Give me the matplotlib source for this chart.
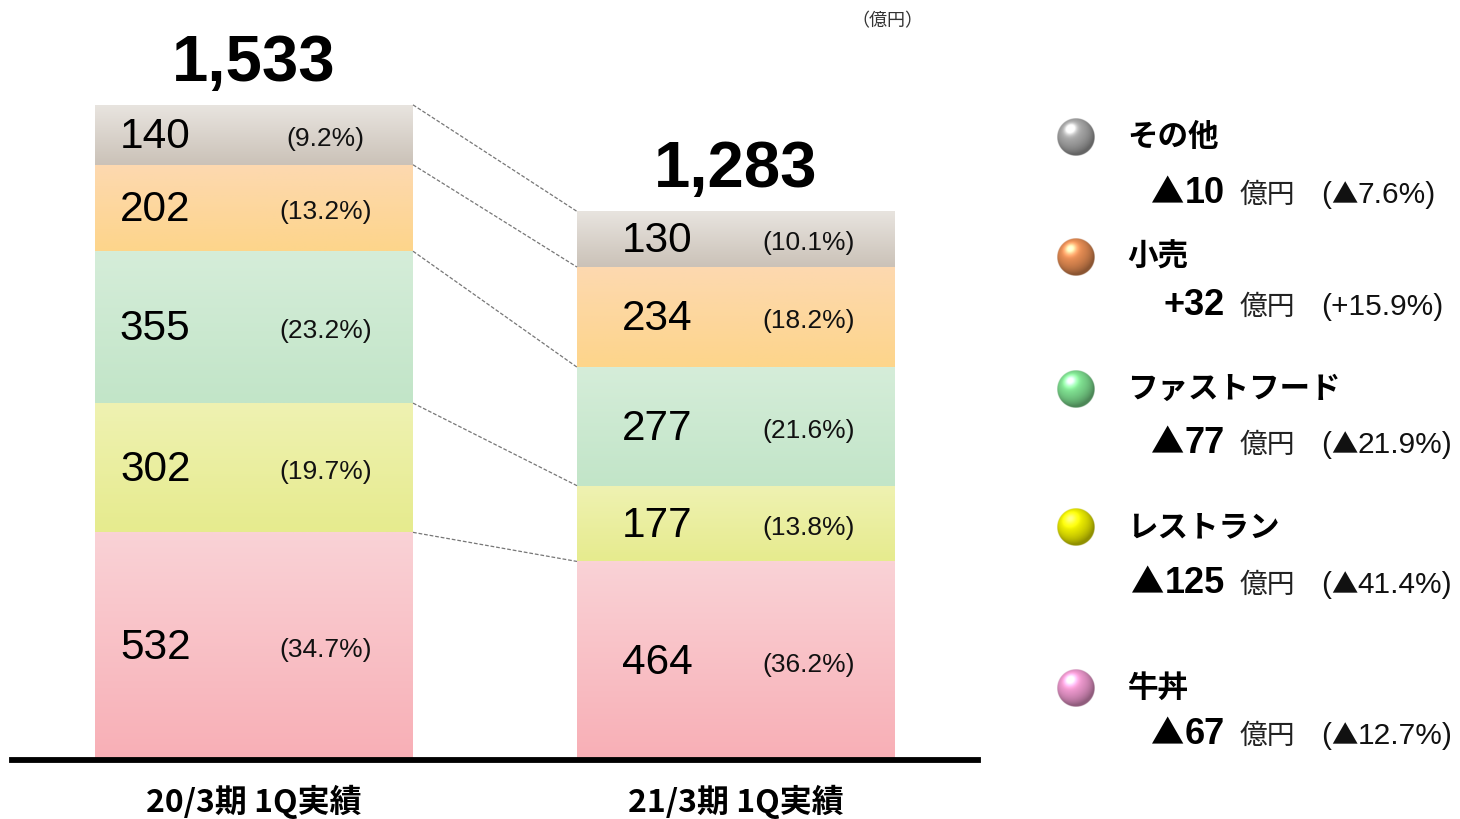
import numpy as np
import matplotlib
matplotlib.use("Agg")
import matplotlib.pyplot as plt
from matplotlib.colors import to_rgb

# ---------------- data ----------------
categories = ['20/3期 1Q実績', '21/3期 1Q実績']
segments = ['牛丼', 'レストラン', 'ファストフード', '小売', 'その他']   # bottom -> top
values_2003 = [532, 302, 355, 202, 140]
values_2103 = [464, 177, 277, 234, 130]
pct_2003 = ['(34.7%)', '(19.7%)', '(23.2%)', '(13.2%)', '(9.2%)']
pct_2103 = ['(36.2%)', '(13.8%)', '(21.6%)', '(18.2%)', '(10.1%)']
totals = ['1,533', '1,283']
diff_values = ['▲67', '▲125', '▲77', '+32', '▲10']
diff_pcts = ['(▲12.7%)', '(▲41.4%)', '(▲21.9%)', '(+15.9%)', '(▲7.6%)']
unit_label = '（億円）'
unit_small = '億円'

# ---------------- styles ----------------
grad_top = ['#fad2d6', '#eff2b2', '#d5edd9', '#fdd9b0', '#e8e4df']
grad_bot = ['#f8afb6', '#e6eb8e', '#c2e5c8', '#fdd58b', '#cbc2b8']
sphere_cols = ['#f09ad0', '#f0f000', '#80e292', '#e88e54', '#a8a8a8']

SANS = ['Liberation Sans', 'DejaVu Sans']
CJK = ['Noto Sans CJK JP', 'DejaVu Sans']

W, H = 1460, 819
fig = plt.figure(figsize=(W / 100, H / 100), dpi=100)

# main axes: x 0..980 px, y from baseline (760 px) up to top
ax = fig.add_axes([0, (H - 760) / H, 980 / W, 760 / H])
ax.set_ylim(0, 760 * 1533 / 656)
for s in ax.spines.values():
    s.set_visible(False)
ax.set_yticks([])

bw = 318 / 482
data = [values_2003, values_2103]
pcts = [pct_2003, pct_2103]
val_dx = [-0.205, -0.164]
pct_dx = [0.148, 0.150]
bottoms = [np.concatenate([[0], np.cumsum(v)[:-1]]) for v in data]

for i, (vals, btm, pl) in enumerate(zip(data, bottoms, pcts)):
    for j, (v, b) in enumerate(zip(vals, btm)):
        bar = ax.bar(i, v, bottom=b, width=bw, color='none', edgecolor='none', zorder=1)[0]
        x0, y0 = bar.get_x(), bar.get_y()
        x1, y1 = x0 + bar.get_width(), y0 + bar.get_height()
        t = np.linspace(0, 1, 64)[:, None]
        c0, c1 = np.array(to_rgb(grad_top[j])), np.array(to_rgb(grad_bot[j]))
        img = (c0[None, :] * (1 - t) + c1[None, :] * t)[:, None, :]
        im = ax.imshow(img, extent=(x0, x1, y0, y1), origin='upper', aspect='auto',
                       interpolation='bilinear', zorder=1)
        im.set_clip_path(bar)
        yc = b + v / 2
        ax.annotate(f'{v}', xy=(i + val_dx[i], yc), xytext=(0, -1.5), textcoords='offset points',
                    ha='center', va='center', fontsize=30.5, family=SANS, color='black', zorder=3)
        ax.annotate(pl[j], xy=(i + pct_dx[i], yc), xytext=(0, -3), textcoords='offset points',
                    ha='center', va='center', fontsize=19, family=SANS, color='#111111', zorder=3)
    ax.annotate(totals[i], xy=(i, sum(vals)), xytext=(0, 17.5), textcoords='offset points',
                ha='center', va='baseline', fontsize=47, fontweight='bold', family=SANS)

# connector dashed lines
cum0 = np.cumsum(values_2003)
cum1 = np.cumsum(values_2103)
for a, b in zip(cum0, cum1):
    ax.plot([0 + bw / 2, 1 - bw / 2], [a, b], ls=(0, (3, 1.5)), lw=0.9, color='#777777', zorder=2)

# baseline
ax.axhline(0, xmin=12 / 980, xmax=978 / 980, color='black', lw=4.2, zorder=4, clip_on=False)

ax.set_xticks([0, 1])
ax.set_xticklabels(categories, fontsize=23, fontweight='bold', family=CJK)
ax.tick_params(axis='x', length=0, pad=18)
ax.set_xlim(-254 / 482, (980 - 254) / 482)

# overlay for legend in pixel coordinates
ov = fig.add_axes([0, 0, 1, 1])
ov.set_xlim(0, W)
ov.set_ylim(H, 0)
ov.axis('off')
ov.patch.set_alpha(0)

ov.text(887, 21, unit_label, ha='center', va='center', fontsize=13, family=CJK, color='#333333')


def sphere(cx, cy, r, col):
    n = 120
    yy, xx = np.mgrid[-1:1:n * 1j, -1:1:n * 1j]
    rr = np.sqrt(xx ** 2 + yy ** 2)
    z = np.sqrt(np.clip(1 - rr ** 2, 0, 1))
    L = np.array([-0.3, -0.45, 0.84])
    L = L / np.linalg.norm(L)
    dot = np.clip(xx * L[0] + yy * L[1] + z * L[2], 0, 1)
    base = np.array(to_rgb(col))
    shade = 0.6 + 0.45 * dot
    spec = dot ** 20 * 0.55
    rgb = base[None, None, :] * shade[..., None] + spec[..., None]
    rgb = np.clip(rgb, 0, 1)
    alpha = np.clip((1 - rr) * n / 2.5, 0, 1)
    rgba = np.dstack([rgb, alpha])
    ov.imshow(rgba, extent=(cx - r, cx + r, cy + r, cy - r), origin='upper',
              interpolation='bilinear', zorder=5)


renderer = fig.canvas.get_renderer()


def seq_text(x, y, parts, align='left'):
    arts = [(ov.text(0, y, s, ha='left', va='baseline', **kw), gap) for s, kw, gap in parts if s]
    widths = [a.get_window_extent(renderer).width + g for a, g in arts]
    cur = x - sum(widths) if align == 'right' else x
    for (a, g), w in zip(arts, widths):
        a.set_x(cur)
        cur += w


def split_tri(s):
    # separate the triangle glyph so it is drawn in the CJK font
    out = []
    buf = ''
    for ch in s:
        if ch == '▲':
            if buf:
                out.append(('txt', buf))
                buf = ''
            out.append(('tri', ch))
        else:
            buf += ch
    if buf:
        out.append(('txt', buf))
    return out


name_y = [688, 527, 389, 257, 137]
val_y = [731, 580, 440, 302, 190]
for k in range(len(segments)):
    sphere(1076, name_y[k], 19, sphere_cols[k])
    ov.text(1127, name_y[k], segments[k], ha='left', va='center', fontsize=22,
            fontweight='bold', family=CJK)
    base_y = val_y[k] + 13
    vparts = []
    for kind, s in split_tri(diff_values[k]):
        if kind == 'tri':
            vparts.append((s, dict(fontsize=24, family=CJK), 0))
        else:
            vparts.append((s, dict(fontsize=26, fontweight='bold', family=SANS), 0))
    seq_text(1225, base_y, vparts, align='right')
    ov.text(1240, base_y, unit_small, ha='left', va='baseline', fontsize=20, family=CJK,
            color='#222222')
    pparts = []
    for kind, s in split_tri(diff_pcts[k]):
        if kind == 'tri':
            pparts.append((s, dict(fontsize=19, family=CJK, color='#111111'), 0))
        else:
            pparts.append((s, dict(fontsize=21.5, family=SANS, color='#111111'), 0))
    seq_text(1321, base_y, pparts, align='left')
ov.set_xlim(0, W)
ov.set_ylim(H, 0)

fig.savefig('out.png', dpi=100, facecolor='white')
